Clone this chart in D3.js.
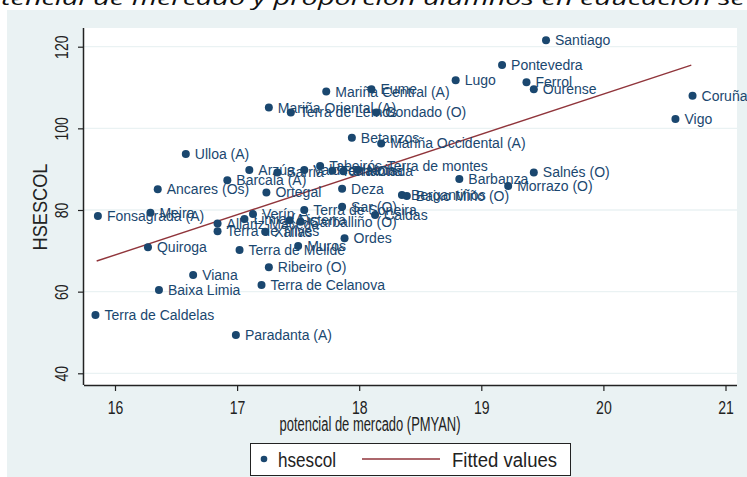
<!DOCTYPE html>
<html><head><meta charset="utf-8">
<script src="https://cdn.jsdelivr.net/npm/d3@7"></script>
<style>body{margin:0;background:#fff;} svg{display:block;}</style>
</head><body>
<svg id="c" width="747" height="477"></svg>
<script>
const names = ["Santiago","Pontevedra","Lugo","Ferrol","Ourense","Coruña","Vigo",
"Mariña Central (A)","Eume","Mariña Oriental (A)","Terra de Lemos","Condado (O)","Betanzos","Mariña Occidental (A)",
"Ulloa (A)","Arzúa","Sarria","Valdeorras","Tabeirós-Terra de montes","Terra Chá","Chantada","Noia",
"Barcala (A)","Ancares (Os)","Ortegal","Deza","Barbanza","Salnés (O)","Morrazo (O)","Bergantiños","Baixo Miño (O)",
"Fonsagrada (A)","Meira","Allariz-Maceda","Terra de Trives","Limia (A)","Verín","Xallas","Fisterra","Carballiño (O)",
"Terra de Soneira","Sar (O)","Caldas","Ordes","Muros","Terra de Melide","Quiroga","Viana","Ribeiro (O)",
"Baixa Limia","Terra de Celanova","Terra de Caldelas","Paradanta (A)"];
const pmyan = [19.53,19.17,18.79,19.37,19.43,20.73,20.59,
17.73,18.10,17.26,17.44,18.14,17.94,18.18,
16.58,17.10,17.33,17.55,17.68,17.78,17.87,17.99,
16.92,16.35,17.24,17.86,18.82,19.43,19.22,18.35,18.39,
15.86,16.29,16.84,16.84,17.06,17.13,17.23,17.43,17.52,
17.55,17.86,18.13,17.88,17.50,17.02,16.27,16.64,17.26,
16.36,17.20,15.84,16.99];
const hsescol = [121.6,115.5,111.8,111.3,109.6,108.0,102.3,
109.0,109.6,105.1,103.9,103.9,97.7,96.3,
93.7,89.8,89.2,89.8,90.8,89.6,89.5,89.8,
87.3,85.1,84.3,85.2,87.6,89.2,85.9,83.7,83.4,
78.5,79.3,76.7,74.8,77.8,79.0,74.7,77.5,77.1,
80.0,80.8,78.8,73.1,71.2,70.2,70.9,64.1,66.0,
60.4,61.6,54.3,49.4];
const fitX = [15.85, 20.72];
const fitY = [67.5, 115.5];
const xTicks = [16,17,18,19,20,21];
const yTicks = [40,60,80,100,120];
const legendLabels = ["hsescol","Fitted values"];

const navy = "#1a476f", maroon = "#90353b", bg = "#eaf2f3";
const FF = "Liberation Sans, Arial, sans-serif";
const svg = d3.select("#c");
const W = 747, H = 477;
svg.append("rect").attr("x",7).attr("y",10).attr("width",W-7).attr("height",H-10).attr("fill",bg);
// partially visible title
svg.append("text").attr("x",1).attr("y",5).attr("font-family","Open Sans, Noto Sans, sans-serif")
  .attr("font-style","italic").attr("font-size",20).attr("fill","#111")
  .attr("textLength",744).attr("lengthAdjust","spacingAndGlyphs")
  .text("tencial de mercado y proporción alumnos en educación se");

const L = 84, R = 737, T = 28, B = 385;
svg.append("rect").attr("x",L).attr("y",T).attr("width",R-L).attr("height",B-T).attr("fill","#fff");

const x = d3.scaleLinear().domain([16,21]).range([115, 115+5*122.1]);
const y = d3.scaleLinear().domain([40,120]).range([373.3, 46.7]);

// gridlines
svg.append("g").selectAll("line").data(yTicks).join("line")
  .attr("x1",L).attr("x2",R).attr("y1",d=>y(d)).attr("y2",d=>y(d))
  .attr("stroke",bg).attr("stroke-width",1.3);

// axes
const xa = svg.append("g").attr("transform",`translate(0,${B})`)
  .call(d3.axisBottom(x).tickValues(xTicks).tickSize(6).tickFormat(d3.format("d")));
xa.select(".domain").attr("d",`M${L},0.5H${R}`).attr("stroke","#222").attr("stroke-width",1.5);
xa.selectAll(".tick line").attr("stroke","#222").attr("stroke-width",1.2);
xa.selectAll(".tick text").attr("font-family",FF).attr("font-size",19)
  .attr("fill","#222").attr("y",null).attr("dy",null)
  .attr("transform","translate(0,29) scale(0.74,1)");
const ya = svg.append("g").attr("transform",`translate(${L},0)`)
  .call(d3.axisLeft(y).tickValues(yTicks).tickSize(6).tickFormat(d3.format("d")));
ya.select(".domain").attr("d",`M-0.5,${T}V${B}`).attr("stroke","#222").attr("stroke-width",1.5);
ya.selectAll(".tick line").attr("stroke","#222").attr("stroke-width",1.2);
ya.selectAll(".tick text").attr("font-family",FF).attr("font-size",19)
  .attr("fill","#222").attr("x",null).attr("dy",null)
  .attr("text-anchor","middle").attr("transform","translate(-16,0) rotate(-90) scale(0.74,1)");

// axis titles
svg.append("text").attr("x",370).attr("y",431).attr("text-anchor","middle")
  .attr("font-family",FF).attr("font-size",20).attr("fill","#222")
  .attr("textLength",181).attr("lengthAdjust","spacingAndGlyphs").text("potencial de mercado (PMYAN)");
svg.append("text").attr("transform","translate(47,207) rotate(-90)").attr("text-anchor","middle")
  .attr("font-family",FF).attr("font-size",20).attr("fill","#222")
  .attr("textLength",87).attr("lengthAdjust","spacingAndGlyphs").text("HSESCOL");

// fitted line
svg.append("path").datum(fitX.map((v,i)=>[v,fitY[i]]))
  .attr("d",d3.line().x(d=>x(d[0])).y(d=>y(d[1])))
  .attr("stroke",maroon).attr("stroke-width",1.4).attr("fill","none");

// points + labels
const pts = names.map((n,i)=>({n, px:pmyan[i], py:hsescol[i]}));
const g = svg.append("g");
g.selectAll("circle").data(pts).join("circle")
  .attr("cx",d=>x(d.px)).attr("cy",d=>y(d.py)).attr("r",4).attr("fill",navy);
g.selectAll("text").data(pts).join("text")
  .attr("x",d=>x(d.px)+9).attr("y",d=>y(d.py)).attr("dy","0.36em")
  .attr("font-family",FF).attr("font-size",14).attr("fill",navy)
  .text(d=>d.n);

// legend
const lg = svg.append("g");
lg.append("rect").attr("x",250.5).attr("y",443.5).attr("width",320).attr("height",32)
  .attr("fill","#fff").attr("stroke","#222").attr("stroke-width",1);
lg.append("circle").attr("cx",264).attr("cy",459).attr("r",3.3).attr("fill",navy);
lg.append("text").attr("x",278).attr("y",467).attr("font-family",FF)
  .attr("font-size",20).attr("fill","#222").attr("textLength",58).attr("lengthAdjust","spacingAndGlyphs").text(legendLabels[0]);
lg.append("line").attr("x1",362).attr("x2",440).attr("y1",459).attr("y2",459).attr("stroke",maroon).attr("stroke-width",1.4);
lg.append("text").attr("x",452).attr("y",467).attr("font-family",FF)
  .attr("font-size",20).attr("fill","#222").attr("textLength",105).attr("lengthAdjust","spacingAndGlyphs").text(legendLabels[1]);
</script>
</body></html>
